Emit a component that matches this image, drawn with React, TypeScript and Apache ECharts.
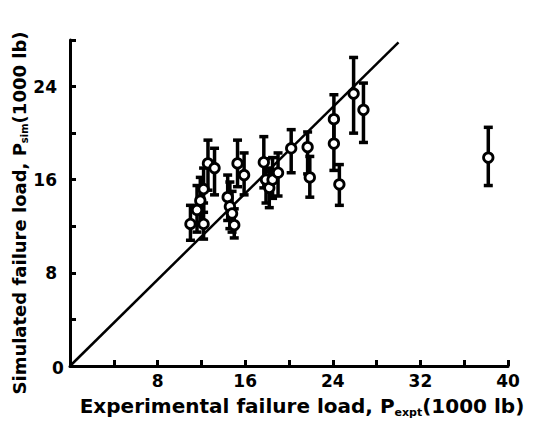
import React, { useEffect, useRef } from "react";
import * as echarts from "echarts";

// Experimental failure load (1000 lb)
const expX = [11.0, 11.6, 11.9, 12.2, 12.2, 12.6, 13.2, 14.4, 14.6, 14.8, 15.0, 15.3, 15.9, 17.7, 17.9, 18.2, 18.5, 19.0, 20.2, 21.7, 21.9, 24.1, 24.1, 24.6, 25.9, 26.8, 38.2];
// Simulated failure load (1000 lb)
const simY = [12.2, 13.4, 14.2, 15.2, 12.2, 17.4, 17.0, 14.5, 13.7, 13.1, 12.1, 17.4, 16.4, 17.5, 16.0, 15.3, 16.0, 16.6, 18.7, 18.8, 16.2, 21.2, 19.1, 15.6, 23.4, 22.0, 17.9];
// Error bar lower / upper ends
const errLow = [10.8, 11.5, 12.3, 13.2, 10.9, 15.1, 14.7, 12.5, 11.8, 11.5, 11.0, 15.4, 14.7, 15.3, 14.0, 13.6, 14.4, 14.6, 16.6, 16.5, 14.5, 19.0, 16.8, 13.8, 20.0, 19.2, 15.5];
const errHigh = [13.8, 15.5, 16.2, 17.0, 14.0, 19.4, 18.7, 16.4, 15.8, 15.0, 13.5, 19.4, 18.3, 19.7, 17.8, 17.0, 17.9, 18.3, 20.3, 20.1, 18.0, 23.3, 21.2, 17.3, 26.5, 24.3, 20.5];
// Reference line end points
const lineX = [0, 30];
const lineY = [0, 27.8];
const xTickLabels = [8, 16, 24, 32, 40];
const yTickLabels = [8, 16, 24];

const FONT = "DejaVu Sans";

export default function App() {
  const ref = useRef<HTMLDivElement>(null);
  useEffect(() => {
    if (!ref.current) return;
    const chart = echarts.init(ref.current, null, { renderer: "svg" });
    const pts = expX.map((x, i) => [x, simY[i]]);
    const bars = expX.map((x, i) => [x, errLow[i], errHigh[i]]);
    const axisText = { color: "#000", fontFamily: FONT, fontWeight: "bold" as const, fontSize: 17 };
    chart.setOption({
      animation: false,
      backgroundColor: "#fff",
      grid: { left: 70, right: 41, top: 40, bottom: 57 },
      xAxis: {
        type: "value",
        min: 0,
        max: 40,
        interval: 4,
        splitLine: { show: false },
        axisLine: { show: true, onZero: false, lineStyle: { color: "#000", width: 3 } },
        axisTick: { show: true, inside: true, length: 6, lineStyle: { color: "#000", width: 3 } },
        axisLabel: {
          ...axisText,
          margin: 6,
          formatter: (v: number) => (xTickLabels.includes(v) ? String(v) : ""),
        },
      },
      yAxis: {
        type: "value",
        min: 0,
        max: 28,
        interval: 4,
        splitLine: { show: false },
        axisLine: { show: true, onZero: false, lineStyle: { color: "#000", width: 3 } },
        axisTick: { show: true, inside: true, length: 6, lineStyle: { color: "#000", width: 3 } },
        axisLabel: {
          ...axisText,
          margin: 13,
          formatter: (v: number) => (yTickLabels.includes(v) ? String(v) : ""),
        },
      },
      graphic: [
        {
          type: "text",
          x: 58,
          y: 368,
          style: { text: "0", ...axisText, fill: "#000", align: "center", verticalAlign: "middle" },
        },
        {
          type: "text",
          x: 302,
          y: 406,
          style: {
            text: "{a|Experimental failure load, P}{s|expt}{a|(1000 lb)}",
            align: "center",
            verticalAlign: "middle",
            rich: {
              a: { fontFamily: FONT, fontWeight: "bold", fontSize: 20, fill: "#000" },
              s: { fontFamily: FONT, fontWeight: "bold", fontSize: 11, fill: "#000", padding: [12, 0, 0, 0] },
            },
          },
        },
        {
          type: "text",
          x: 19,
          y: 213,
          rotation: Math.PI / 2,
          style: {
            text: "{a|Simulated failure load, P}{s|sim}{a|(1000 lb)}",
            align: "center",
            verticalAlign: "middle",
            rich: {
              a: { fontFamily: FONT, fontWeight: "bold", fontSize: 18, fill: "#000" },
              s: { fontFamily: FONT, fontWeight: "bold", fontSize: 10, fill: "#000", padding: [11, 0, 0, 0] },
            },
          },
        },
      ],
      series: [
        {
          type: "line",
          data: lineX.map((x, i) => [x, lineY[i]]),
          symbol: "none",
          lineStyle: { color: "#000", width: 2.5 },
          z: 2,
        },
        {
          type: "custom",
          data: bars,
          encode: { x: 0, y: [1, 2] },
          z: 3,
          renderItem: (params: any, api: any) => {
            const x = api.value(0);
            const lo = api.coord([x, api.value(1)]);
            const hi = api.coord([x, api.value(2)]);
            const w = 4.5;
            const st = { stroke: "#000", lineWidth: 3.5 };
            return {
              type: "group",
              children: [
                { type: "line", shape: { x1: hi[0], y1: hi[1], x2: lo[0], y2: lo[1] }, style: st },
                { type: "line", shape: { x1: hi[0] - w, y1: hi[1], x2: hi[0] + w, y2: hi[1] }, style: st },
                { type: "line", shape: { x1: lo[0] - w, y1: lo[1], x2: lo[0] + w, y2: lo[1] }, style: st },
              ],
            };
          },
        },
        {
          type: "scatter",
          data: pts,
          symbol: "circle",
          symbolSize: 9.5,
          itemStyle: { color: "#fff", borderColor: "#000", borderWidth: 2.8, opacity: 1 },
          z: 4,
        },
      ],
    });
    return () => chart.dispose();
  }, []);
  return <div ref={ref} style={{ width: 549, height: 423, position: "absolute", left: 0, top: 0 }} />;
}
